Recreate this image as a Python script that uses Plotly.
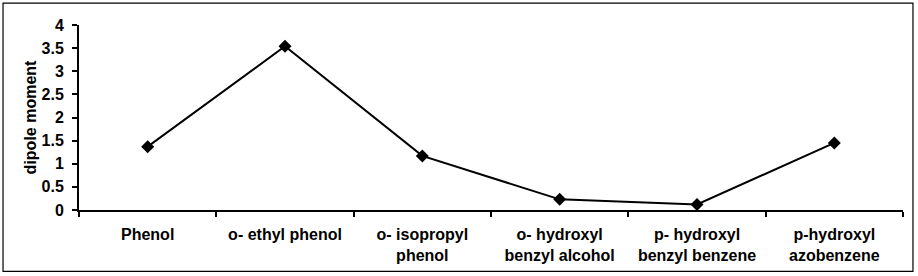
import plotly.graph_objects as go

categories = ["Phenol", "o- ethyl phenol", "o- isopropyl<br>phenol",
              "o- hydroxyl<br>benzyl alcohol", "p- hydroxyl<br>benzyl benzene",
              "p-hydroxyl<br>azobenzene"]
dipole_moment = [1.37, 3.54, 1.17, 0.23, 0.12, 1.45]
y_ticks = [0, 0.5, 1, 1.5, 2, 2.5, 3, 3.5, 4]
y_tick_labels = ["0", "0.5", "1", "1.5", "2", "2.5", "3", "3.5", "4"]

font = dict(family="Liberation Sans, Arial, sans-serif", size=16, color="black", weight="bold")

fig = go.Figure()
fig.add_trace(go.Scatter(
    x=categories, y=dipole_moment, mode="lines+markers",
    line=dict(color="black", width=2),
    marker=dict(symbol="diamond", size=10, color="black"),
    showlegend=False, cliponaxis=False,
))

fig.update_layout(
    width=918, height=276,
    margin=dict(l=79, r=15, t=25, b=65.5),
    paper_bgcolor="white", plot_bgcolor="white",
    font=font,
    xaxis=dict(
        type="category", range=[-0.5, 5.5], tickson="boundaries",
        showline=True, linecolor="black", linewidth=2,
        ticks="outside", ticklen=5, tickcolor="black", tickwidth=1.5,
        showgrid=False, zeroline=False, tickfont=font,
        ticklabelstandoff=9,
    ),
    yaxis=dict(
        range=[0, 4], tickvals=y_ticks, ticktext=y_tick_labels,
        showline=True, linecolor="black", linewidth=2,
        ticks="outside", ticklen=5, tickcolor="black", tickwidth=1.5,
        showgrid=False, zeroline=False, tickfont=font,
        ticklabelstandoff=5,
        title=dict(text="dipole moment", font=font, standoff=1),
    ),
    shapes=[dict(type="rect", xref="paper", yref="paper",
                 x0=-0.0922, x1=1.0121, y0=-0.3315, y1=1.1186,
                 line=dict(color="black", width=1.2), layer="below")],
)

fig.write_html("out.html")
